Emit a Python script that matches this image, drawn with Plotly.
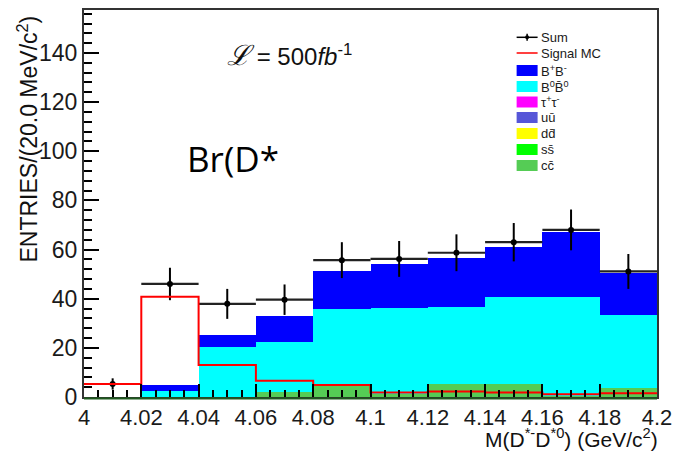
import plotly.graph_objects as go

# ---- histogram data: M(D*- D*0), 20 MeV bins ----
bin_edges = [4.00, 4.02, 4.04, 4.06, 4.08, 4.10, 4.12, 4.14, 4.16, 4.18, 4.20]
sum_vals = [5.3, 46.0, 37.9, 39.6, 55.7, 56.2, 58.7, 63.0, 68.0, 51.1]
sum_err = [2.3, 6.6, 6.1, 6.2, 7.3, 7.3, 7.5, 7.8, 8.3, 7.1]
signal_mc = [5.3, 40.8, 13.0, 6.6, 4.9, 1.8, 2.2, 1.8, 1.1, 1.5]
bb_charged = [0.0, 2.3, 5.0, 10.6, 15.4, 17.9, 19.8, 20.6, 26.7, 17.1]
bb_neutral = [0.0, 2.6, 20.2, 20.3, 31.1, 35.2, 31.4, 35.4, 40.1, 30.0]
tautau = [0.0] * 10
uubar = [0.0] * 10
ddbar = [0.0] * 10
ssbar = [0.0] * 10
ccbar = [0.0, 0.0, 0.0, 2.2, 4.6, 1.2, 5.2, 5.2, 0.5, 3.5]

x_tick_vals = [4.00, 4.02, 4.04, 4.06, 4.08, 4.10, 4.12, 4.14, 4.16, 4.18, 4.20]
x_tick_text = ["4", "4.02", "4.04", "4.06", "4.08", "4.1", "4.12", "4.14", "4.16", "4.18", "4.2"]
y_tick_vals = [0, 20, 40, 60, 80, 100, 120, 140]

legend_names = ["Sum", "Signal MC", "B<sup>+</sup>B<sup>-</sup>", "B<sup>0</sup>B\u0304<sup>0</sup>",
                "\u03c4<sup>+</sup>\u03c4<sup>-</sup>", "u\u016b", "dd\u0304", "ss\u0304", "cc\u0304"]

COL_BPM = "#0000ff"
COL_B0 = "#00ffff"
COL_TAU = "#ff00ff"
COL_UU = "#5656d8"
COL_DD = "#ffff00"
COL_SS = "#00ff00"
COL_CC = "#55cc55"
COL_SIG = "#ff0000"

centers = [(a + b) / 2 for a, b in zip(bin_edges[:-1], bin_edges[1:])]
widths = [b - a for a, b in zip(bin_edges[:-1], bin_edges[1:])]

fig = go.Figure()

# stacked background components, bottom first
stack = [
    (ccbar, COL_CC), (ssbar, COL_SS), (ddbar, COL_DD), (uubar, COL_UU),
    (tautau, COL_TAU), (bb_neutral, COL_B0), (bb_charged, COL_BPM),
]
for vals, col in stack:
    fig.add_trace(go.Bar(x=centers, y=vals, width=widths, marker=dict(color=col, line=dict(width=0)),
                         showlegend=False, hoverinfo="skip"))

# sum with errors
fig.add_trace(go.Scatter(
    x=centers, y=sum_vals, mode="markers",
    marker=dict(color="black", size=6),
    error_x=dict(type="data", array=[w / 2 for w in widths], thickness=2.2, width=0, color="#222"),
    error_y=dict(type="data", array=sum_err, thickness=2, width=0, color="black"),
    showlegend=False))

# signal MC outline (step), drawn on top
fig.add_trace(go.Scatter(x=bin_edges, y=signal_mc + [signal_mc[-1]], mode="lines",
                         line=dict(color=COL_SIG, width=2, shape="hv"), showlegend=False))

# frame geometry in pixels
L, R, T, B = 84, 657.5, 10, 397
W, H = 673, 452


def px(x):
    return (x - L) / (R - L)


def py(y):
    return (B - y) / (B - T)


shapes = []
annotations = []

# dark line along the bottom of the stack
shapes.append(dict(type="line", xref="paper", yref="paper", x0=0, x1=1, y0=py(398.5), y1=py(398.5),
                   line=dict(color="#1e5a1e", width=2), layer="above"))

# legend
leg_x0, leg_x1, txt_x = 517, 538, 539
leg_y = [37.3, 53.0, 70.5, 86.5, 102.0, 117.5, 133.5, 149.5, 165.5]
box_cols = [None, None, COL_BPM, COL_B0, COL_TAU, COL_UU, COL_DD, COL_SS, COL_CC]
for i, (name, yy, col) in enumerate(zip(legend_names, leg_y, box_cols)):
    if i == 0:
        shapes.append(dict(type="line", xref="paper", yref="paper", x0=px(leg_x0), x1=px(leg_x1),
                           y0=py(yy), y1=py(yy), line=dict(color="black", width=1.5)))
        shapes.append(dict(type="line", xref="paper", yref="paper", x0=px(527.5), x1=px(527.5),
                           y0=py(yy - 3.5), y1=py(yy + 3.5), line=dict(color="black", width=1.5)))
        shapes.append(dict(type="circle", xref="paper", yref="paper", x0=px(525.5), x1=px(529.5),
                           y0=py(yy - 2), y1=py(yy + 2), fillcolor="black", line=dict(width=0)))
    elif i == 1:
        shapes.append(dict(type="line", xref="paper", yref="paper", x0=px(leg_x0), x1=px(leg_x1),
                           y0=py(yy), y1=py(yy), line=dict(color=COL_SIG, width=1.5)))
    else:
        shapes.append(dict(type="rect", xref="paper", yref="paper", x0=px(leg_x0), x1=px(leg_x1),
                           y0=py(yy - 5.5), y1=py(yy + 5.5), fillcolor=col, line=dict(width=0)))
    annotations.append(dict(text=name, xref="paper", yref="paper", x=px(txt_x), y=py(yy),
                            xanchor="left", yanchor="middle", showarrow=False,
                            font=dict(family="Liberation Sans", size=13, color="#1a1a1a")))

# luminosity label
annotations.append(dict(
    text="<span style='font-size:28px'><i>\u2112</i></span> = 500<i>fb</i><sup>-1</sup>",
    xref="paper", yref="paper", x=px(225), y=py(56), xanchor="left", yanchor="middle", showarrow=False,
    font=dict(family="Liberation Sans", size=24, color="#111")))

# overlay text
annotations.append(dict(text="Br(D*", xref="paper", yref="paper", x=px(185), y=py(158),
                        xanchor="left", yanchor="middle", showarrow=False,
                        font=dict(family="Open Sans", size=35, color="black")))

# axis titles
annotations.append(dict(text="ENTRIES/(20.0 MeV/c<sup>2</sup>)", xref="paper", yref="paper",
                        x=px(27), y=py(14), xanchor="center", yanchor="top", textangle=-90,
                        showarrow=False, font=dict(family="Liberation Sans", size=23, color="#111")))
annotations.append(dict(text="M(D<sup>*-</sup>D<sup>*0</sup>) (GeV/c<sup>2</sup>)", xref="paper", yref="paper",
                        x=px(661), y=py(438), xanchor="right", yanchor="middle",
                        showarrow=False, font=dict(family="Liberation Sans", size=21, color="#111")))

axis_font = dict(family="Liberation Sans", size=22, color="#1a1a1a")

fig.update_layout(
    width=W, height=H,
    margin=dict(l=L, r=W - R, t=T, b=H - B),
    paper_bgcolor="white", plot_bgcolor="white",
    barmode="stack", bargap=0,
    shapes=shapes, annotations=annotations,
    xaxis=dict(range=[4.0, 4.2], tickvals=x_tick_vals, ticktext=x_tick_text, automargin=False,
               ticks="inside", ticklen=13, tickwidth=1.5, tickcolor="black",
               minor=dict(dtick=0.005, ticks="inside", ticklen=7, tickwidth=1.5, tickcolor="black"),
               showline=True, mirror=True, linecolor="#333", linewidth=2,
               showgrid=False, zeroline=False, tickfont=axis_font),
    yaxis=dict(range=[0, 157.5], tickvals=y_tick_vals, automargin=False,
               ticks="inside", ticklen=15, tickwidth=1.5, tickcolor="black",
               minor=dict(dtick=4, ticks="inside", ticklen=8, tickwidth=1.5, tickcolor="black"),
               showline=True, mirror=True, linecolor="#333", linewidth=2,
               showgrid=False, zeroline=False, tickfont=dict(family="Liberation Sans", size=23, color="#1a1a1a")),
)

fig.write_html("out.html")
